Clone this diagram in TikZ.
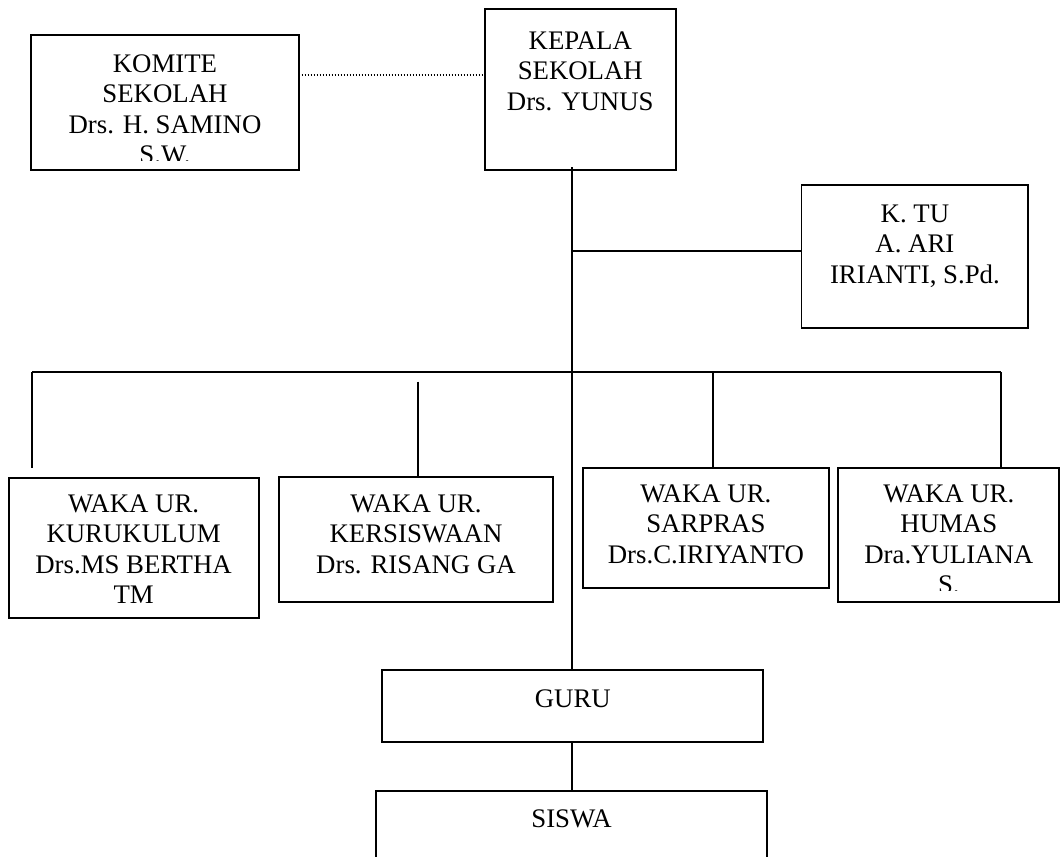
\documentclass[tikz,border=0pt]{standalone}
\usepackage{fontspec}
\setmainfont{Liberation Serif}
\begin{document}
\begin{tikzpicture}[x=1pt,y=-1pt,
  box/.style={draw=black,line width=1.9pt,inner sep=0pt,outer sep=0pt,anchor=north west},
  txt/.style={anchor=north,inner sep=0pt,align=center,font=\fontsize{26.8}{30.5}\selectfont},
  conn/.style={draw=black,line width=1.9pt},
  dotline/.style={draw=black,line width=1.8pt,dash pattern=on 1.5pt off 1.5pt}]
\useasboundingbox (0,0) rectangle (1061,857);
\clip (0,0) rectangle (1061,857);
% boxes
\node[box,minimum width=267.7pt,minimum height=135pt] (komite) at (31,35) {};
\node[box,minimum width=191.3pt,minimum height=160.7pt] (kepala) at (484.7,9.3) {};
\node[box,minimum width=226.8pt,minimum height=143.3pt] (ktu) at (801.5,185) {};
\node[box,minimum width=250pt,minimum height=140pt] (kur) at (8.6,478.3) {};
\node[box,minimum width=273.4pt,minimum height=125pt] (kers) at (279.3,477.3) {};
\node[box,minimum width=246.3pt,minimum height=120.3pt] (sar) at (582.7,467.7) {};
\node[box,minimum width=221pt,minimum height=134.6pt] (hum) at (838.3,467.7) {};
\node[box,minimum width=381pt,minimum height=72.3pt] (guru) at (382.3,670) {};
\node[box,minimum width=391.3pt,minimum height=120pt] (siswa) at (376,791) {};
% texts
\begin{scope}
\clip (31,35) rectangle (299,160.5);
\node[txt] (tkomite) at (165,54.2) {KOMITE\\SEKOLAH\\Drs. H. SAMINO\\S.W.};
\end{scope}
\node[txt] (tkepala) at (580.3,31.2) {KEPALA\\SEKOLAH\\Drs. YUNUS};
\node[txt] (tktu) at (914.9,204.5) {K. TU\\A. ARI\\IRIANTI, S.Pd.};
\node[txt] (tkur) at (133.6,494.5) {WAKA UR.\\KURUKULUM\\Drs.MS BERTHA\\TM};
\node[txt] (tkers) at (416,494.5) {WAKA UR.\\KERSISWAAN\\Drs. RISANG GA};
\node[txt] (tsar) at (705.9,484.5) {WAKA UR.\\SARPRAS\\Drs.C.IRIYANTO};
\begin{scope}
\clip (838,467) rectangle (1061,590.5);
\node[txt] (thum) at (948.8,484.5) {WAKA UR.\\HUMAS\\Dra.YULIANA\\S.};
\end{scope}
\node[txt] (tguru) at (572.8,689.5) {GURU};
\node[txt] (tsiswa) at (571.6,809.2) {SISWA};
% connectors
\draw[dotline] ([yshift=-40pt]komite.north east) -- ([yshift=-40pt]komite.north east -| kepala.west);
\coordinate (jtop) at (572,167);
\draw[conn] (jtop) -- (jtop |- guru.north);
\coordinate (jtu) at (572,250.7);
\draw[conn] (jtu) -- (jtu -| ktu.west);
\coordinate (bL) at (32,372.3);
\coordinate (bR) at (1001,372.3);
\draw[conn] (bL) -- (bR);
\coordinate (dkur) at (32,468.3);
\draw[conn] (bL) -- (dkur);
\coordinate (kTop) at (418.3,381.7);
\draw[conn] (kTop) -- (kTop |- kers.north);
\coordinate (sTop) at (713,372.3);
\draw[conn] (sTop) -- (sTop |- sar.north);
\draw[conn] (bR) -- (bR |- hum.north);
\coordinate (gs) at (572,742.3);
\draw[conn] (gs) -- (gs |- siswa.north);
\end{tikzpicture}
\end{document}
